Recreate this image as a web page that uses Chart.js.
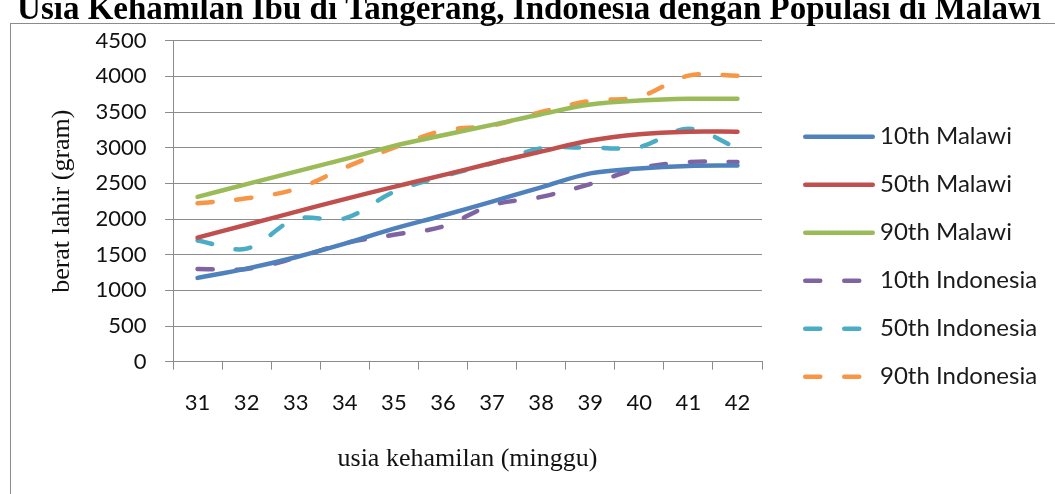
<!DOCTYPE html>
<html>
<head>
<meta charset="utf-8">
<script src="https://cdn.jsdelivr.net/npm/chart.js@4/dist/chart.umd.min.js"></script>
<style>
  html, body { margin: 0; padding: 0; background: #fff; }
  canvas { display: block; }
</style>
</head>
<body>
<canvas id="c" width="1055" height="494"></canvas>
<script>
// Gestational age in weeks
const weeks = ['31', '32', '33', '34', '35', '36', '37', '38', '39', '40', '41', '42'];

// Birth weight percentiles (gram), Malawi reference population
const malawi10 = [1175, 1305, 1465, 1655, 1865, 2050, 2245, 2445, 2640, 2710, 2745, 2750];
const malawi50 = [1740, 1920, 2100, 2280, 2450, 2615, 2785, 2945, 3100, 3190, 3225, 3225];
const malawi90 = [2310, 2490, 2665, 2840, 3025, 3175, 3320, 3470, 3605, 3660, 3685, 3685];

// Birth weight percentiles (gram), Tangerang, Indonesia
const indo10 = [1300, 1300, 1455, 1660, 1780, 1895, 2195, 2310, 2490, 2710, 2800, 2800];
const indo50 = [1700, 1585, 2000, 2010, 2380, 2600, 2780, 2990, 3000, 3010, 3265, 2995];
const indo90 = [2220, 2290, 2420, 2720, 3000, 3240, 3310, 3500, 3655, 3715, 4010, 4010];

const seriesNames = ['10th Malawi', '50th Malawi', '90th Malawi', '10th Indonesia', '50th Indonesia', '90th Indonesia'];
const seriesValues = [malawi10, malawi50, malawi90, indo10, indo50, indo90];
const seriesColors = ['#4F81BD', '#C0504D', '#9BBB59', '#8064A2', '#4BACC6', '#F79646'];
const seriesDashed = [false, false, false, true, true, true];

const yTicks = { min: 0, max: 4500, step: 500 };

const chartTitle = 'Usia Kehamilan Ibu di Tangerang, Indonesia dengan Populasi di Malawi';
const xTitle = 'usia kehamilan (minggu)';
const yTitle = 'berat lahir (gram)';

const LONG_DASH = [15, 24];
const gridGray = '#8c8c8c';
const textColor = '#111111';

const datasets = seriesNames.map((name, i) => ({
  label: name,
  data: seriesValues[i],
  borderColor: seriesColors[i],
  backgroundColor: seriesColors[i],
  borderWidth: 4.5,
  borderDash: seriesDashed[i] ? LONG_DASH : [],
  borderCapStyle: 'round',
  borderJoinStyle: 'round',
  tension: 0.35,
  pointRadius: 0,
  fill: false
}));

// White page, outer frame and the heading line above it
const frameAndTitle = {
  id: 'frameAndTitle',
  beforeDraw(chart) {
    const ctx = chart.ctx;
    ctx.save();
    ctx.fillStyle = '#ffffff';
    ctx.fillRect(0, 0, chart.width, chart.height);
    ctx.strokeStyle = gridGray;
    ctx.lineWidth = 1;
    ctx.strokeRect(10.5, 23.5, chart.width + 40, chart.height + 40);
    ctx.fillStyle = '#000000';
    ctx.font = 'bold 33px "Liberation Serif", serif';
    ctx.textAlign = 'center';
    ctx.textBaseline = 'alphabetic';
    ctx.fillText(chartTitle, 529, 19);
    ctx.restore();
  }
};

// Series key on the right, built from the datasets
const sideLegend = {
  id: 'sideLegend',
  afterDraw(chart) {
    const ctx = chart.ctx;
    chart.data.datasets.forEach((ds, i) => {
      const y = 136.7 + i * 48;
      ctx.save();
      ctx.strokeStyle = ds.borderColor;
      ctx.lineWidth = ds.borderWidth;
      ctx.lineCap = 'round';
      ctx.setLineDash(ds.borderDash || []);
      ctx.beginPath();
      ctx.moveTo(805.25, y);
      ctx.lineTo(872.75, y);
      ctx.stroke();
      ctx.setLineDash([]);
      ctx.fillStyle = '#1a1a1a';
      ctx.font = '24px Lato, sans-serif';
      ctx.textAlign = 'left';
      ctx.textBaseline = 'middle';
      ctx.fillText(ds.label, 880, y);
      ctx.restore();
    });
  }
};

new Chart(document.getElementById('c'), {
  type: 'line',
  data: { labels: weeks, datasets },
  options: {
    responsive: false,
    animation: false,
    devicePixelRatio: 1,
    layout: { padding: { left: 0, top: 40.7, right: 293, bottom: 0 } },
    plugins: {
      legend: { display: false },
      title: { display: false },
      tooltip: { enabled: false }
    },
    scales: {
      x: {
        offset: true,
        grid: { offset: true, drawOnChartArea: false, color: gridGray, tickLength: 8 },
        border: { color: gridGray },
        ticks: {
          font: { family: 'Lato, sans-serif', size: 22 },
          color: textColor,
          padding: 20.5,
          maxRotation: 0,
          autoSkip: false
        },
        title: {
          display: true,
          text: xTitle,
          font: { family: '"Liberation Serif", serif', size: 26 },
          color: textColor,
          padding: { top: 0, bottom: 19.4 }
        },
        afterFit(scale) { scale.height = 494 - 361.7; }
      },
      y: {
        min: yTicks.min,
        max: yTicks.max,
        grid: { color: gridGray, tickLength: 8 },
        border: { color: gridGray },
        ticks: {
          stepSize: yTicks.step,
          font: { family: 'Lato, sans-serif', size: 22 },
          color: textColor,
          padding: 18.5,
          callback: (value) => String(value)
        },
        title: {
          display: true,
          text: yTitle,
          font: { family: '"Liberation Serif", serif', size: 26 },
          color: textColor,
          padding: { top: 46.4, bottom: 0 }
        },
        afterFit(scale) { scale.width = 173; }
      }
    }
  },
  plugins: [frameAndTitle, sideLegend]
});
</script>
</body>
</html>
